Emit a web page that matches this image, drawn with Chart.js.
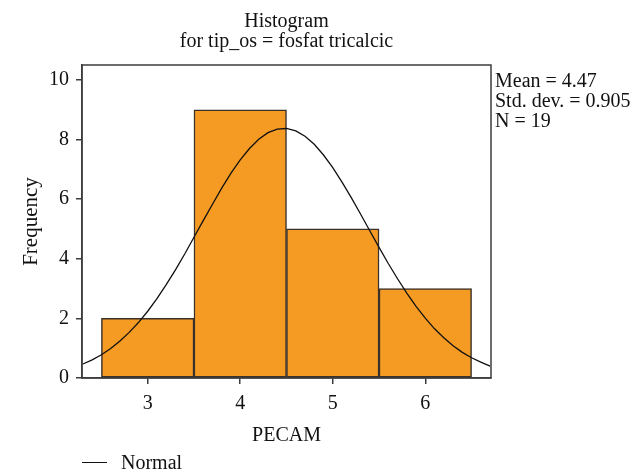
<!DOCTYPE html>
<html>
<head>
<meta charset="utf-8">
<script src="https://cdn.jsdelivr.net/npm/chart.js@4.4.0/dist/chart.umd.min.js"></script>
<style>
  html, body { margin: 0; padding: 0; background: #fff; }
  #wrap { position: relative; width: 634px; height: 472px; font-family: "Liberation Serif", serif; color: #111; }
  #chart { position: absolute; left: 0; top: 0; }
  .txt { position: absolute; font-size: 20px; white-space: nowrap; line-height: 20px; }
  #title { left: 82px; width: 409px; top: 10px; text-align: center; }
  #stats { left: 495px; top: 70px; }
  #legend { left: 82px; top: 452px; }
  #legend span.line { display: inline-block; width: 25px; height: 0; border-top: 1.5px solid #111; vertical-align: middle; margin-right: 14px; position: relative; top: -2px; }
</style>
</head>
<body>
<div id="wrap">
  <canvas id="chart" width="634" height="472"></canvas>
  <div class="txt" id="title">Histogram<br>for tip_os = fosfat tricalcic</div>
  <div class="txt" id="stats">Mean = 4.47<br>Std. dev. = 0.905<br>N = 19</div>
  <div class="txt" id="legend"><span class="line"></span>Normal</div>
</div>
<script>
// ================= DATA =================
const binCenters = [3, 4, 5, 6];
const binCounts = [2, 9, 5, 3];

// normal curve
const curveX = [2.3, 2.4, 2.5, 2.6, 2.7, 2.8, 2.9, 3.0, 3.1, 3.2, 3.3, 3.4, 3.5, 3.6, 3.7, 3.8, 3.9,
  4.0, 4.1, 4.2, 4.3, 4.4, 4.5, 4.6, 4.7, 4.8, 4.9, 5.0, 5.1, 5.2, 5.3, 5.4, 5.5, 5.6, 5.7,
  5.8, 5.9, 6.0, 6.1, 6.2, 6.3, 6.4, 6.5, 6.6, 6.7];
const curveY = [0.47, 0.61, 0.78, 0.99, 1.24, 1.53, 1.86, 2.24, 2.66, 3.13, 3.63, 4.16, 4.72, 5.28, 5.83, 6.37, 6.87,
  7.32, 7.70, 8.01, 8.23, 8.35, 8.37, 8.29, 8.11, 7.84, 7.48, 7.06, 6.57, 6.05, 5.50, 4.94, 4.38, 3.84, 3.33,
  2.85, 2.40, 2.01, 1.65, 1.35, 1.08, 0.86, 0.68, 0.53, 0.40];

const xTicks = [3, 4, 5, 6];
const yTicks = [0, 2, 4, 6, 8, 10];

// ================= CHART =================
const axisColor = "#3c3c3c";
const fontSpec = { family: "Liberation Serif", size: 20 };

// box round the plot area
const frameBox = {
    id: "frameBox",
    afterDatasetsDraw(chart) {
        const a = chart.chartArea;
        const ctx = chart.ctx;
        ctx.save();
        ctx.strokeStyle = axisColor;
        ctx.lineWidth = 1.5;
        ctx.strokeRect(a.left, a.top, a.right - a.left, a.bottom - a.top);
        ctx.restore();
    }
};

new Chart(document.getElementById("chart"), {
    data: {
        datasets: [
            {
                type: "line",
                label: "Normal",
                data: curveX.map((x, i) => ({ x, y: curveY[i] })),
                borderColor: "#111",
                borderWidth: 1.3,
                pointRadius: 0,
                tension: 0,
                fill: false,
                order: 0
            },
            {
                type: "bar",
                label: "Frequency",
                data: binCenters.map((x, i) => ({ x, y: binCounts[i] })),
                backgroundColor: "#F59A23",
                borderColor: "#3a3128",
                borderWidth: 1.5,
                borderSkipped: false,
                barPercentage: 1,
                categoryPercentage: 1,
                order: 1
            }
        ]
    },
    options: {
        responsive: false,
        animation: false,
        layout: { padding: { top: 65, right: 143, bottom: 20, left: 0 } },
        plugins: { legend: { display: false }, tooltip: { enabled: false } },
        scales: {
            x: {
                type: "linear",
                min: 2.29,
                max: 6.71,
                offset: false,
                afterFit: s => { s.height = 74; },
                afterBuildTicks: s => { s.ticks = xTicks.map(v => ({ value: v })); },
                ticks: { color: "#111", font: fontSpec, padding: 8 },
                grid: { display: true, offset: false, drawOnChartArea: false, drawTicks: true, tickLength: 6, color: axisColor, lineWidth: 1.5 },
                border: { display: true, color: axisColor, width: 1.5 },
                title: { display: true, text: "PECAM", color: "#111", font: fontSpec, padding: { top: 4, bottom: 4 } }
            },
            y: {
                min: 0,
                max: 10.5,
                afterFit: s => { s.width = 82; },
                afterBuildTicks: s => { s.ticks = yTicks.map(v => ({ value: v })); },
                ticks: { color: "#111", font: fontSpec, padding: 7 },
                grid: { display: true, drawOnChartArea: false, drawTicks: true, tickLength: 6, color: axisColor, lineWidth: 1.5 },
                border: { display: true, color: axisColor, width: 1.5 },
                title: { display: true, text: "Frequency", color: "#111", font: { family: "Liberation Serif", size: 21 }, padding: { top: 19, bottom: 4 } }
            }
        }
    },
    plugins: [frameBox]
});
</script>
</body>
</html>
